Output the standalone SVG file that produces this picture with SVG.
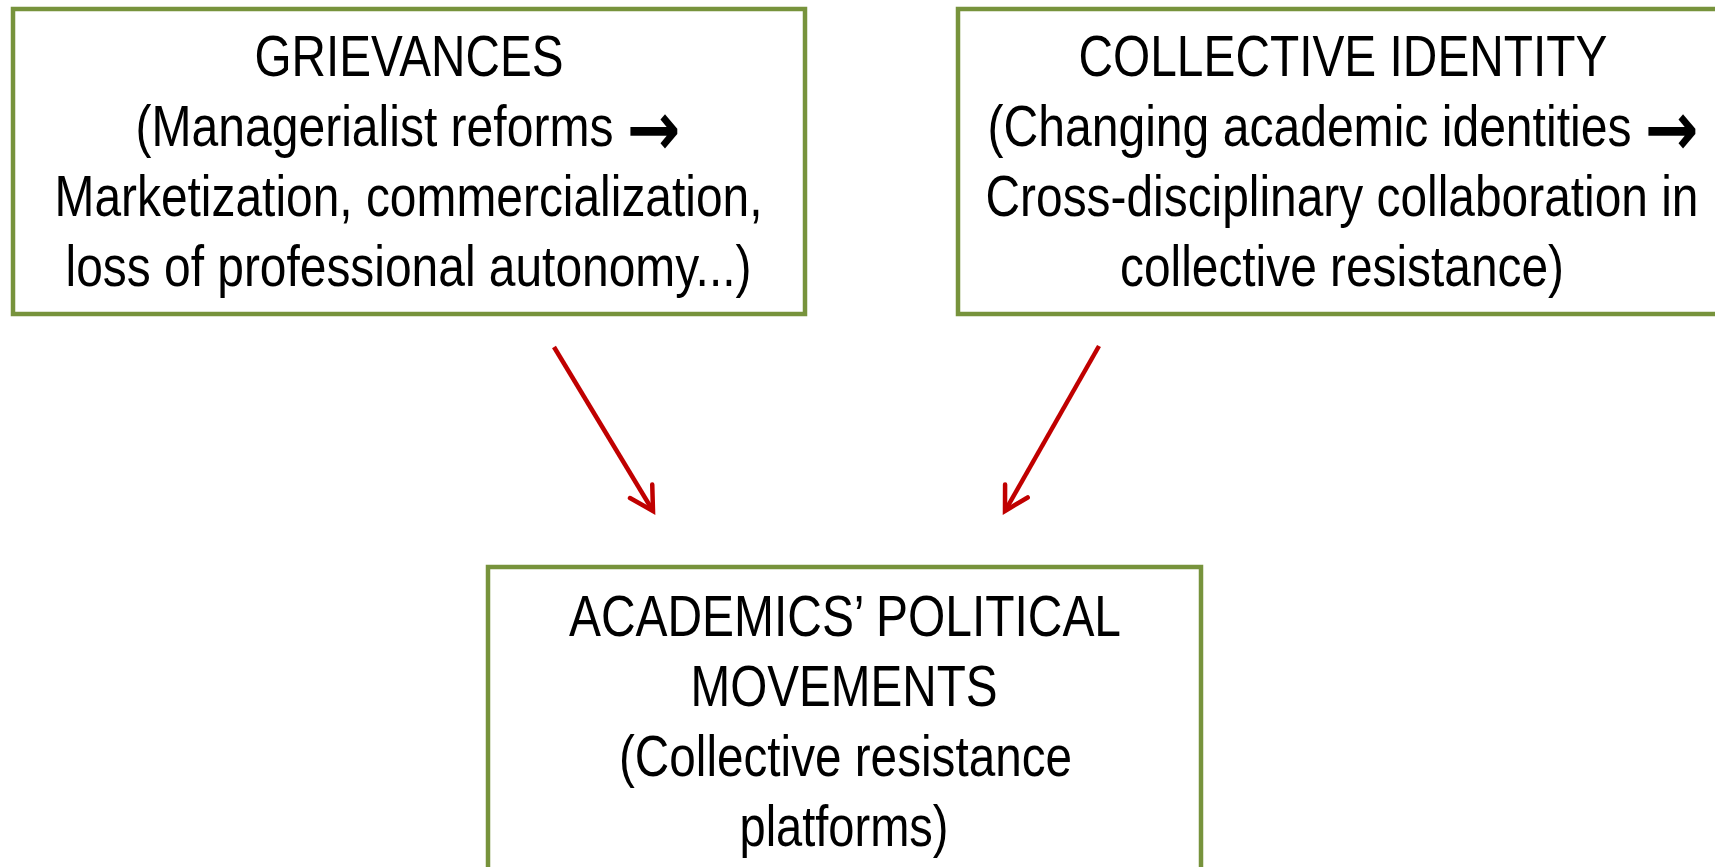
<svg xmlns="http://www.w3.org/2000/svg" width="1715" height="867" viewBox="0 0 1715 867">
<style>
.box{fill:#ffffff;stroke:#77933C;stroke-width:4.5}
.t{font-family:"Liberation Sans Narrow","Liberation Sans",Arial,sans-serif;font-size:57px;fill:#000;text-anchor:middle}
.ar{font-family:"DejaVu Sans",sans-serif;font-weight:bold;font-size:76px}
.c{stroke:#C00000;stroke-width:4.5;fill:none}
</style>
<defs>
<marker id="ah" viewBox="0 0 12 12" refX="10" refY="6" markerWidth="12" markerHeight="12" markerUnits="userSpaceOnUse" orient="auto" overflow="visible">
<path d="M-13,-7 L10,6 L-13,19" fill="none" stroke="#C00000" stroke-width="4.5" stroke-linecap="round" stroke-linejoin="miter"/>
</marker>
</defs>
<rect width="1715" height="867" fill="#ffffff"/>
<g id="grievances">
<rect class="box" x="13" y="9" width="792" height="305"/>
<text class="t" x="409" y="76" textLength="309" lengthAdjust="spacingAndGlyphs">GRIEVANCES</text>
<text class="t" x="408" y="146" textLength="545" lengthAdjust="spacingAndGlyphs">(Managerialist reforms <tspan class="ar" dy="9">→</tspan></text>
<text class="t" x="408.5" y="216" textLength="708" lengthAdjust="spacingAndGlyphs">Marketization, commercialization,</text>
<text class="t" x="408.5" y="286" textLength="686" lengthAdjust="spacingAndGlyphs">loss of professional autonomy...)</text>
</g>
<g id="collective-identity">
<rect class="box" x="958" y="9" width="800" height="305"/>
<text class="t" x="1343" y="76" textLength="529" lengthAdjust="spacingAndGlyphs">COLLECTIVE IDENTITY</text>
<text class="t" x="1343" y="146" textLength="711" lengthAdjust="spacingAndGlyphs">(Changing academic identities <tspan class="ar" dy="9">→</tspan></text>
<text class="t" x="1342" y="216" textLength="713" lengthAdjust="spacingAndGlyphs">Cross-disciplinary collaboration in</text>
<text class="t" x="1342" y="286" textLength="444" lengthAdjust="spacingAndGlyphs">collective resistance)</text>
</g>
<g id="political-movements">
<rect class="box" x="488" y="567" width="713" height="400"/>
<text class="t" x="845" y="636" textLength="552" lengthAdjust="spacingAndGlyphs">ACADEMICS’ POLITICAL</text>
<text class="t" x="844" y="706" textLength="307" lengthAdjust="spacingAndGlyphs">MOVEMENTS</text>
<text class="t" x="845.5" y="776" textLength="453" lengthAdjust="spacingAndGlyphs">(Collective resistance</text>
<text class="t" x="844" y="846" textLength="209" lengthAdjust="spacingAndGlyphs">platforms)</text>
</g>
<g id="connectors">
<line class="c" x1="554" y1="347" x2="653" y2="511" marker-end="url(#ah)"/>
<line class="c" x1="1099" y1="346" x2="1005" y2="511" marker-end="url(#ah)"/>
</g>
</svg>
